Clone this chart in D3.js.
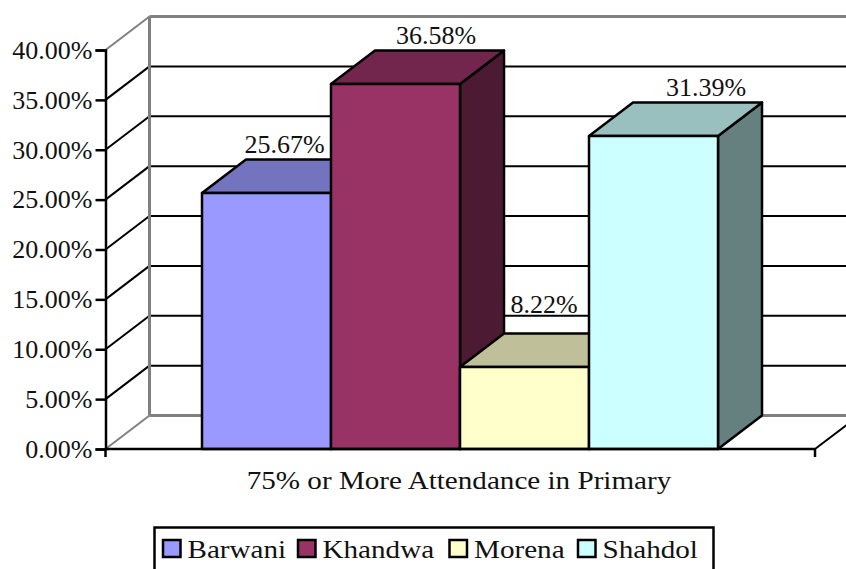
<!DOCTYPE html>
<html>
<head>
<meta charset="utf-8">
<script src="https://cdn.jsdelivr.net/npm/d3@7"></script>
<style>
  html, body { margin: 0; background: #fff; overflow: hidden; }
  svg { display: block; }
  text { font-family: "Liberation Serif", serif; font-size: 26px; fill: #111; }
</style>
</head>
<body>
<div id="chart"></div>
<script>
var categories = ["Barwani", "Khandwa", "Morena", "Shahdol"]
var attendance = [25.67, 36.58, 8.22, 31.39]
var valueLabels = ["25.67%", "36.58%", "8.22%", "31.39%"]
var yTicks = [0, 5, 10, 15, 20, 25, 30, 35, 40]
var axisTitle = "75% or More Attendance in Primary"

var frontColors = ["#9999ff", "#993366", "#ffffcc", "#ccffff"]
var topColors = ["#7373bf", "#73264d", "#bfbf99", "#99bfbf"]
var sideColors = ["#4d4d80", "#4d1a33", "#808066", "#668080"]

var depthX = 44, depthY = -33.5
var plotLeft = 105.5, plotRight = 815, plotBottom = 449, plotTop = 50
var grey = "#808080"

var svg = d3.select("#chart").append("svg")
  .attr("width", 846)
  .attr("height", 569)

var x = d3.scaleBand()
  .domain(categories)
  .range([202, 718])

var y = d3.scaleLinear()
  .domain([0, 40])
  .range([plotBottom, plotTop])

function line(g, x1, y1, x2, y2, color, width) {
  g.append("line")
    .attr("x1", x1).attr("y1", y1)
    .attr("x2", x2).attr("y2", y2)
    .attr("stroke", color)
    .attr("stroke-width", width)
}

// The source font runs wider than Liberation Serif, so stretch to its widths
function stretch(selection, factor) {
  selection.each(function() {
    d3.select(this)
      .attr("lengthAdjust", "spacingAndGlyphs")
      .attr("textLength", this.getComputedTextLength() * factor)
  })
}

// Walls and gridlines
var walls = svg.append("g")
yTicks.forEach(function(t) {
  var gy = y(t)
  var isEdge = t === 0 || t === 40
  var color = isEdge ? grey : "#000"
  line(walls, plotLeft, gy, plotLeft + depthX, gy + depthY, color, 2)
  line(walls, plotLeft + depthX, gy + depthY, plotRight + depthX, gy + depthY, color, isEdge ? 3 : 2)
})
line(walls, plotLeft + depthX, y(0) + depthY, plotLeft + depthX, y(40) + depthY, grey, 3)
line(walls, plotRight, y(0), plotRight + depthX, y(0) + depthY, "#000", 2)

// Bars, left to right so that each one covers the side of the one before
var bars = svg.append("g")
categories.forEach(function(c, i) {
  var x0 = x(c), x1 = x0 + x.bandwidth()
  var y0 = y(attendance[i]), yb = y(0)
  var g = bars.append("g")
    .attr("stroke", "#000")
    .attr("stroke-width", 2.5)
    .attr("stroke-linejoin", "round")

  g.append("path")
    .attr("fill", sideColors[i])
    .attr("d", d3.line()([[x1, y0], [x1 + depthX, y0 + depthY], [x1 + depthX, yb + depthY], [x1, yb]]) + "Z")
  g.append("path")
    .attr("fill", topColors[i])
    .attr("d", d3.line()([[x0, y0], [x0 + depthX, y0 + depthY], [x1 + depthX, y0 + depthY], [x1, y0]]) + "Z")
  g.append("rect")
    .attr("x", x0).attr("y", y0)
    .attr("width", x.bandwidth())
    .attr("height", yb - y0)
    .attr("fill", frontColors[i])
})

// Axes
var yAxis = svg.append("g")
  .attr("transform", "translate(" + plotLeft + ",0)")
  .call(d3.axisLeft(y)
    .tickValues(yTicks)
    .tickSize(10)
    .tickPadding(3)
    .tickFormat(function(d) { return d3.format(".2f")(d) + "%" }))
yAxis.select(".domain").attr("stroke", "#000").attr("stroke-width", 2.5)
yAxis.selectAll(".tick line").attr("stroke", "#000").attr("stroke-width", 2.5)
yAxis.attr("font-family", null).attr("font-size", null)
yAxis.selectAll("text").attr("fill", "#111")

var xAxis = svg.append("g")
line(xAxis, plotLeft, plotBottom, plotRight, plotBottom, "#000", 2.5)
line(xAxis, plotLeft, plotBottom, plotLeft, plotBottom + 8, "#000", 2.5)
line(xAxis, plotRight, plotBottom, plotRight, plotBottom + 8, "#000", 2.5)

stretch(svg.append("text")
  .attr("x", 459)
  .attr("y", 489)
  .attr("text-anchor", "middle")
  .text(axisTitle), 1.12)

// Value labels sit off the bar's front-top centre
var labelDx = [18, 40.5, 19.5, 52.5]
var labelDy = [-40, -40, -54, -40]
categories.forEach(function(c, i) {
  svg.append("text")
    .attr("x", x(c) + x.bandwidth() / 2 + labelDx[i])
    .attr("y", y(attendance[i]) + labelDy[i])
    .attr("text-anchor", "middle")
    .text(valueLabels[i])
})

// Legend, cut off by the bottom of the picture as in the source
var legendX = [163, 298, 449.5, 578]
var legend = svg.append("g")
legend.append("rect")
  .attr("x", 154.5).attr("y", 527.5)
  .attr("width", 559).attr("height", 60)
  .attr("fill", "#fff")
  .attr("stroke", "#000")
  .attr("stroke-width", 2.5)
categories.forEach(function(c, i) {
  legend.append("rect")
    .attr("x", legendX[i]).attr("y", 540)
    .attr("width", 17.5).attr("height", 17)
    .attr("fill", frontColors[i])
    .attr("stroke", "#000")
    .attr("stroke-width", 2.5)
  stretch(legend.append("text")
    .attr("x", legendX[i] + 24.5)
    .attr("y", 558)
    .text(c), 1.12)
})
</script>
</body>
</html>
